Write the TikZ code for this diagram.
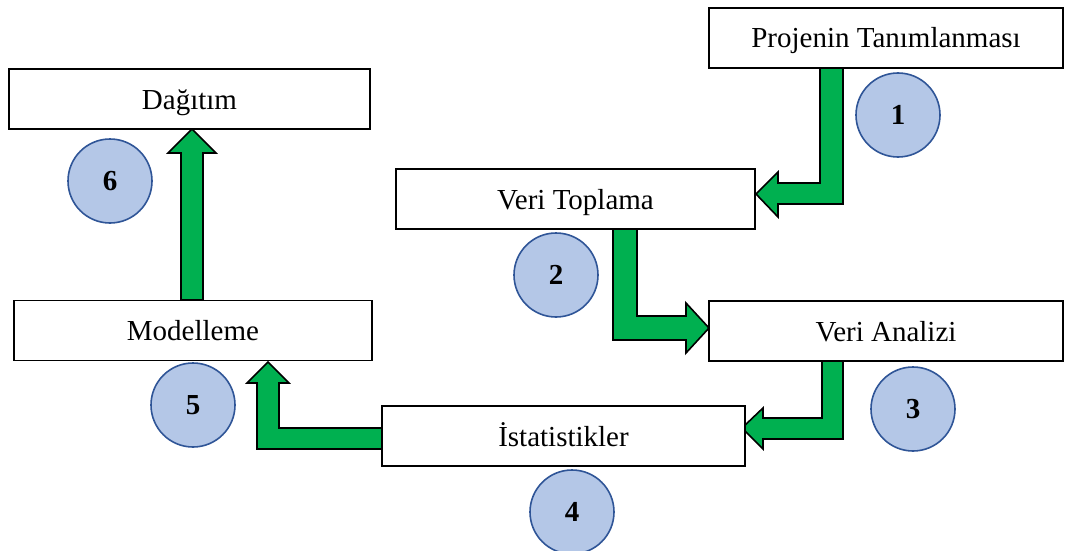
\documentclass[tikz,border=0pt]{standalone}
\usepackage{fontspec}
\setmainfont{Liberation Serif}
\definecolor{arrgreen}{HTML}{00B050}
\definecolor{circfill}{HTML}{B4C7E7}
\definecolor{circline}{HTML}{2F5597}
\begin{document}
\begin{tikzpicture}[x=1pt,y=-1pt,
  stepbox/.style={draw=black,line width=1.6pt,fill=white,minimum height=60pt,inner sep=0pt,text height=20pt,text depth=0pt,font=\fontsize{29}{34}\selectfont},
  numcirc/.style={circle,draw=circline,line width=1.6pt,fill=circfill,minimum size=84pt,inner sep=0pt,text height=19.5pt,text depth=0pt,font=\fontsize{29}{34}\selectfont\bfseries},
  blockarrow/.style={draw=black,line width=1.6pt,fill=arrgreen,line join=miter}]
\useasboundingbox (0,0) rectangle (1068,551);
% block arrows
\draw[blockarrow] (820,68) -- (843,68) -- (843,204) -- (778,204) -- (778,217) -- (756,194) -- (778,172) -- (778,183) -- (820,183) -- cycle;
\draw[blockarrow] (613,229) -- (637,229) -- (637,316) -- (686,316) -- (686,303) -- (709,328) -- (686,353) -- (686,340) -- (613,340) -- cycle;
\draw[blockarrow] (822,361) -- (843,361) -- (843,439) -- (763,439) -- (763,449) -- (742,428) -- (763,408) -- (763,418) -- (822,418) -- cycle;
\draw[blockarrow] (382,428) -- (382,449) -- (257,449) -- (257,383) -- (247,383) -- (268,362) -- (289,383) -- (279,383) -- (279,428) -- cycle;
\draw[blockarrow] (181,300) -- (203,300) -- (203,153) -- (216,153) -- (192,129) -- (168,153) -- (181,153) -- cycle;
% boxes
\node[stepbox,minimum width=354pt] (P) at (886,38) {Projenin Tanımlanması};
\node[stepbox,minimum width=359pt] (T) at (575.5,199) {Veri Toplama};
\node[stepbox,minimum width=354pt] (A) at (886,331) {Veri Analizi};
\node[stepbox,minimum width=363pt] (I) at (563.5,436) {İstatistikler};
\node[stepbox,minimum width=358pt] (M) at (193,330.5) {Modelleme};
\node[stepbox,minimum width=361pt] (D) at (189.5,99) {Dağıtım};
% numbers
\node[numcirc] (c1) at (898,115) {1};
\node[numcirc] (c2) at (556,275) {2};
\node[numcirc] (c3) at (913,409) {3};
\node[numcirc] (c4) at (572,512) {4};
\node[numcirc] (c5) at (193,405) {5};
\node[numcirc] (c6) at (110,181) {6};
\end{tikzpicture}
\end{document}
